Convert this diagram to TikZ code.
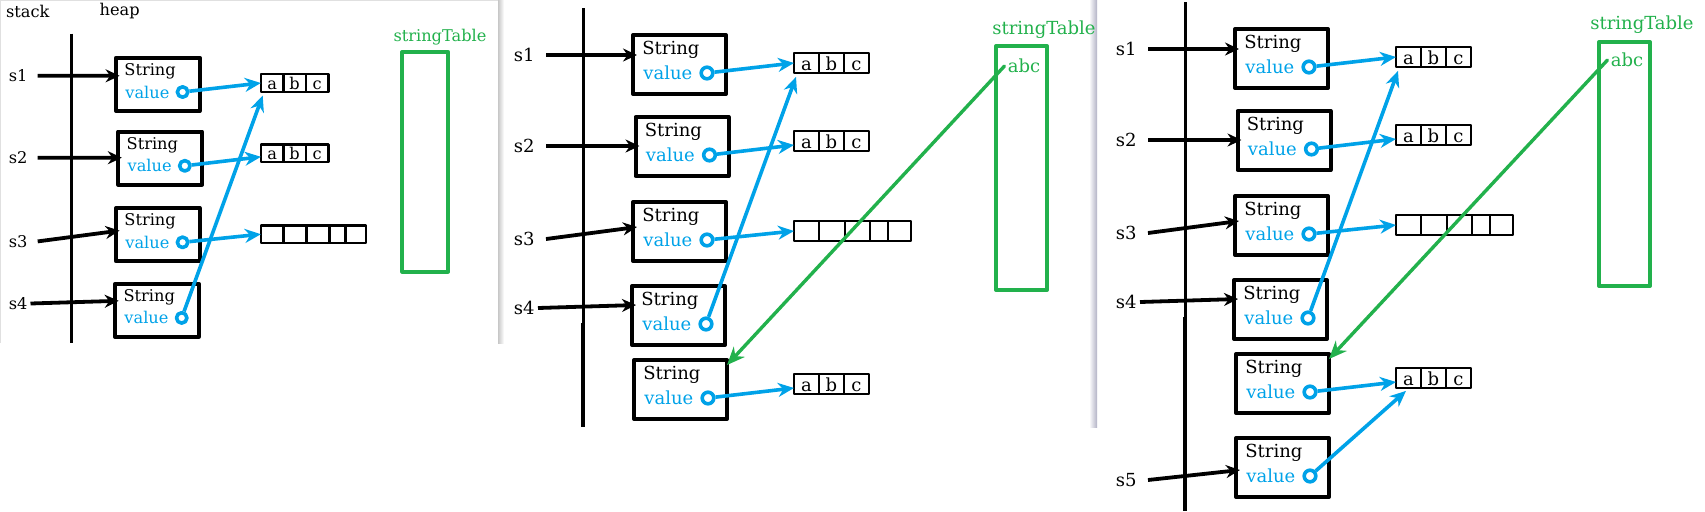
\documentclass[tikz,border=0pt]{standalone}
\usepackage{fontspec}
\setmainfont{DejaVu Serif}
\usetikzlibrary{arrows.meta,positioning}
\definecolor{pblue}{RGB}{0,162,232}
\definecolor{pgreen}{RGB}{34,177,76}
\begin{document}
\begin{tikzpicture}[x=0.5pt,y=-0.5pt,line join=round,
	every node/.style={font=\fontsize{9}{10}\selectfont,inner sep=0pt},
	obj/.style={draw,line width=2pt,minimum width=46.5pt,minimum height=29.5pt},
	fld/.style={anchor=west},
	ring/.style={circle,draw=pblue,line width=1.8pt,minimum size=5.8pt},
	cell/.style={draw,line width=1.3pt,outer sep=0pt,minimum width=12.5pt,minimum height=9.9pt,text height=1.6ex,text depth=0.2ex},
	tbl/.style={draw=pgreen,line width=2pt,minimum width=25.5pt,minimum height=122pt},
	ref/.style={-{Stealth[length=7pt,width=6.5pt]},line width=1.9pt},
	ptr/.style={-{Stealth[length=8pt,width=7pt]},line width=1.8pt,pblue},
	intern/.style={-{Stealth[length=9pt,width=7.5pt]},line width=1.7pt,pgreen,line cap=round}]
	\useasboundingbox (0,0) rectangle (1705,511);
	%==screenshot edges
	\shade[left color=black!22,right color=white] (498,0) rectangle (504,343);
	\draw[black!12,line width=0.6pt] (0.5,343) -- (0.5,0.5) -- (498,0.5);
	\shade[left color=white,right color=blue!25!black!30] (1089,0) rectangle (1097,427);
	%==three snapshots: name/shift/scale/rows/stack end/table
	\foreach \p/\sx/\sy/\sc/\n/\ybot/\yext/\tx/\ty/\lx/\ly in {a/71/56/0.9/4/319/319/393.5/117.5/358/-21,b/583/33/1/5/394/290/438.5/135/409/-3,c/1185/27/1/6/484/290/439.5/137/405/-2}{
	\begin{scope}[shift={(\sx,\sy)},scale=\sc,transform shape]
		\ifnum\n=4
		\node (\p stk) at (-48,-50) {stack};
		\node (\p hp) at (54,-50) {heap};
		\fi
		\draw[line width=1.5pt] (0,-25) -- (0,\ybot);
		\draw[line width=2.2pt] (0,\yext) -- (0,\ybot);
		%==String objects
		\foreach \i/\t/\bx in {1/0/96.5,2/82/99,3/167/96.5,4/251/95.5,5/325/97.5,6/409/97.5}{
			\ifnum\i>\n\relax\else
			\node[obj] (\p B\i) at (\bx,\t+31.5) {};
			\node[fld] (\p S\i) at (\bx-37.5,\t+17) {String};
			\node[fld,pblue] (\p V\i) at (\bx-36.5,\t+40) {value};
			\node[ring] (\p C\i) at (\bx+27.5,\t+40) {};
			\fi}
		%==stack references
		\foreach \i/\t/\s/\ys/\ye/\g in {1/0/s1/22/22/5.5,2/82/s2/113/31/5.5,3/167/s3/206/27/5.5,4/251/s4/275/21/1.5,6/409/s5/453/34/5.5}{
			\ifnum\i>\n\relax\else
			\node[anchor=east] (\p L\i) at (-48,\ys) {\s};
			\draw[ref] ([xshift=\g pt]\p L\i.east) -- ([shift={(6,\ye)}]\p B\i.north west);
			\fi}
		%==char arrays
		\foreach \i/\y in {1/30,2/108,5/351}{
			\ifnum\i>\n\relax\else
			\node[cell] (\p A\i-1) at (223.5,\y) {a};
			\node[cell,right=0pt of \p A\i-1] (\p A\i-2) {b};
			\node[cell,right=0pt of \p A\i-2] (\p A\i-3) {c};
			\fi}
		\node[cell] (\p A3-1) at (223.5,198) {};
		\node[cell,minimum width=13pt,right=0pt of \p A3-1] (\p A3-2) {};
		\node[cell,right=0pt of \p A3-2] (\p A3-3) {};
		\node[cell,minimum width=9pt,right=0pt of \p A3-3] (\p A3-4) {};
		\node[cell,minimum width=11.5pt,right=0pt of \p A3-4] (\p A3-5) {};
		%==value pointers
		\draw[ptr] (\p C1) -- (\p A1-1.west);
		\draw[ptr] (\p C2) -- ([yshift=-2pt]\p A2-1.west);
		\draw[ptr] (\p C3) -- (\p A3-1.west);
		\draw[ptr] (\p C4) -- ([shift={(2,4)}]\p A1-1.south west);
		\ifnum\n>4 \draw[ptr] (\p C5) -- ([yshift=-2pt]\p A5-1.west); \fi
		\ifnum\n>5 \draw[ptr] (\p C6) -- ([shift={(10,3)}]\p A5-1.south west); \fi
		%==string table
		\node[tbl] (\p T) at (\tx,\ty) {};
		\node[anchor=west,pgreen] (\p N) at (\lx,\ly) {stringTable};
		\ifnum\n>4
		\node[anchor=west,pgreen,inner sep=1.5pt] (\p abc) at (\tx-17,33) {abc};
		\draw[intern] (\p abc.west) -- ([shift={(-2,7)}]\p B5.north east);
		\fi
	\end{scope}}
\end{tikzpicture}
\end{document}
